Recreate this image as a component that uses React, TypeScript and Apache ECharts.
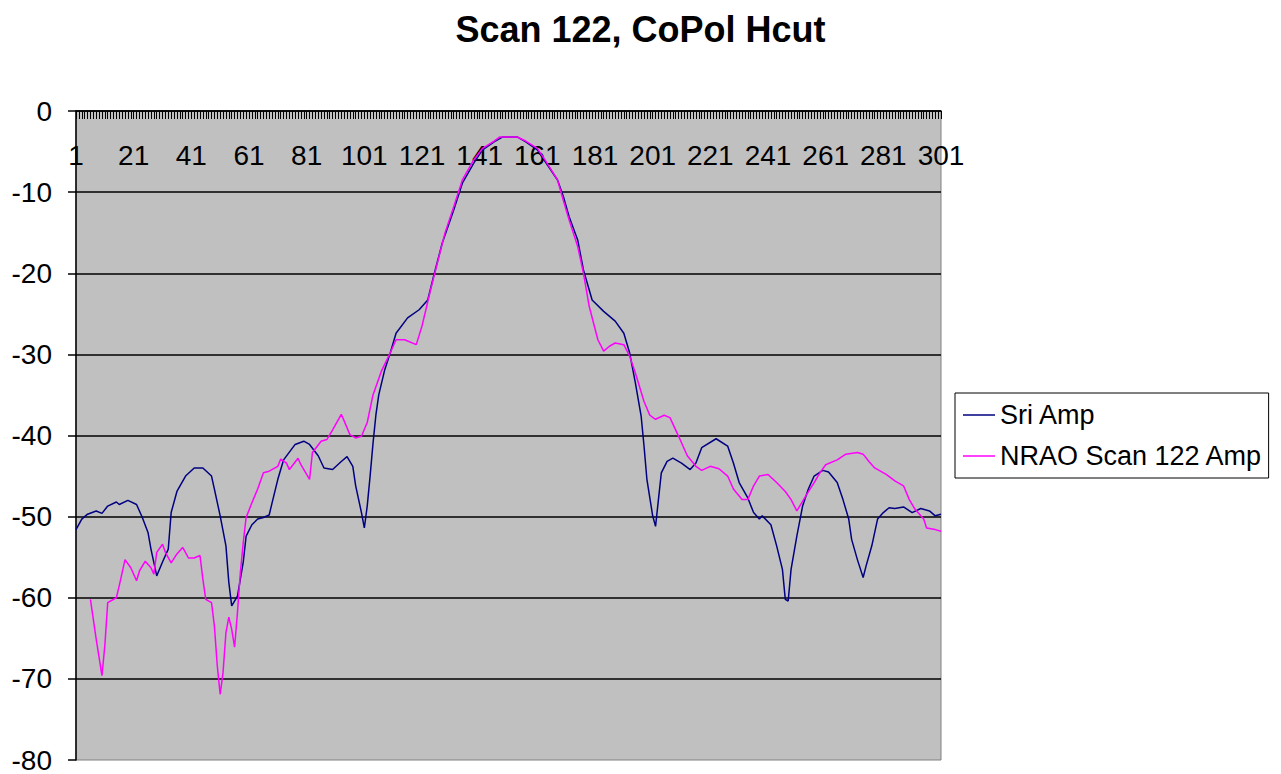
import React, { useEffect, useRef } from "react";
import * as echarts from "echarts";

const categories: string[] = Array.from({ length: 301 }, (_, i) => String(i + 1));

const sriCat = [1, 3, 5, 8, 10, 12, 15, 16, 19, 22, 24, 26, 27, 29, 31, 33, 34, 36, 39, 42, 45, 48, 49, 51, 53, 54, 55, 57, 59, 60, 62, 64, 66, 68, 69, 71, 73, 77, 80, 82, 85, 87, 90, 93, 95, 97, 98, 100, 101, 102, 103, 104, 105, 106, 108, 110, 112, 116, 120, 123, 125, 128, 132, 135, 139, 142, 146, 149, 154, 157, 161, 164, 168, 170, 172, 175, 177, 180, 184, 188, 191, 193, 195, 197, 198, 199, 201, 202, 203, 204, 206, 208, 211, 214, 216, 218, 223, 227, 229, 231, 234, 236, 238, 239, 242, 244, 246, 247, 248, 249, 251, 253, 255, 257, 260, 262, 265, 267, 269, 270, 272, 274, 275, 277, 279, 281, 283, 285, 288, 291, 294, 297, 299, 301];
const sriAmp = [-51.6, -50.3, -49.7, -49.3, -49.6, -48.7, -48.2, -48.5, -48.0, -48.5, -50.1, -52, -54, -57.3, -55.6, -54, -49.5, -46.9, -45, -44, -44, -45, -46.6, -49.9, -53.6, -58.1, -61, -59.8, -55.6, -52.4, -51, -50.3, -50.1, -49.8, -48.3, -45.4, -43, -41.1, -40.7, -41.1, -42.5, -44, -44.2, -43.2, -42.6, -43.8, -46.2, -49.5, -51.4, -48.7, -45, -41, -37.5, -35, -32, -29.8, -27.4, -25.5, -24.5, -23.3, -20.4, -16.3, -12.2, -8.9, -6.4, -4.8, -3.8, -3.2, -3.2, -3.8, -4.8, -6.4, -8.5, -10.5, -13, -15.9, -19.6, -23.3, -24.7, -25.9, -27.4, -29.8, -33.5, -37.6, -41.3, -45.4, -49.9, -51.2, -47.9, -44.6, -43.2, -42.8, -43.4, -44.2, -43.4, -41.5, -40.4, -41.3, -43.4, -45.8, -47.7, -49.5, -50.3, -49.9, -51, -53.6, -56.5, -60.2, -60.4, -56.5, -52.4, -48.7, -46.6, -45, -44.3, -44.5, -45.8, -47.9, -50.3, -52.8, -55.3, -57.5, -56.1, -53.6, -50.3, -49.5, -48.9, -49, -48.8, -49.5, -49, -49.3, -49.9, -49.7];

const nraoCat = [6, 8, 10, 11, 12, 15, 16, 18, 20, 22, 23, 25, 27, 28, 29, 31, 32, 34, 36, 38, 40, 42, 44, 45, 46, 48, 49, 50, 51, 52, 53, 54, 55, 56, 57, 58, 59, 60, 62, 64, 66, 68, 71, 72, 74, 75, 78, 79, 82, 83, 86, 88, 90, 93, 94, 96, 98, 100, 102, 104, 107, 110, 112, 115, 119, 121, 124, 126, 129, 132, 135, 139, 142, 146, 148, 154, 157, 161, 164, 168, 170, 172, 175, 177, 179, 182, 184, 186, 188, 191, 193, 195, 198, 200, 202, 205, 207, 210, 213, 216, 218, 221, 224, 227, 229, 232, 234, 236, 238, 241, 244, 247, 249, 251, 252, 254, 257, 259, 261, 265, 268, 272, 274, 276, 278, 282, 285, 288, 290, 292, 295, 296, 299, 301];
const nraoAmp = [-60.2, -65.1, -69.6, -65.9, -60.6, -60, -58.5, -55.3, -56.3, -57.9, -56.7, -55.5, -56.3, -57.1, -54.4, -53.4, -54.4, -55.7, -54.6, -53.8, -55.1, -55.1, -54.8, -57.7, -60.2, -60.6, -63.5, -68.4, -71.9, -69.2, -64.3, -62.4, -63.9, -66.1, -61.8, -56.9, -53.2, -50.1, -48.3, -46.6, -44.6, -44.4, -43.8, -42.9, -43.4, -44.2, -42.8, -43.6, -45.4, -42.1, -40.7, -40.5, -39.3, -37.4, -38.2, -39.9, -40.3, -40.1, -38.4, -35, -32, -29.8, -28.2, -28.2, -28.8, -26.5, -22, -19.2, -15, -11.8, -8.5, -6, -4.6, -3.7, -3.2, -3.2, -3.7, -4.6, -6.2, -8.5, -11, -13.4, -16.7, -20, -24.1, -28.2, -29.6, -29, -28.6, -28.8, -30.2, -32.3, -35.8, -37.5, -38, -37.5, -37.8, -40.1, -42.5, -43.8, -44.3, -43.8, -44.1, -45, -46.6, -47.9, -47.9, -46.2, -45, -44.8, -45.8, -46.9, -47.9, -49.3, -48.7, -47.5, -45.8, -44.6, -43.6, -43, -42.3, -42.1, -42.3, -43.2, -44, -44.8, -45.6, -46.2, -47.9, -49.1, -50.3, -51.4, -51.6, -51.8];

const yTicks = { min: -80, max: 0, interval: 10 };
const seriesNames = ["Sri Amp", "NRAO Scan 122 Amp"];
const titleText = "Scan 122, CoPol Hcut";

const FONT = "'Liberation Sans', Arial, Helvetica, sans-serif";

export default function App() {
  const ref = useRef<HTMLDivElement>(null);
  useEffect(() => {
    if (!ref.current) return;
    const chart = echarts.init(ref.current, undefined, { renderer: "svg" });
    chart.setOption({
      animation: false,
      backgroundColor: "#ffffff",
      textStyle: { fontFamily: FONT },
      title: {
        text: titleText,
        left: "center",
        top: 6,
        textStyle: { fontFamily: FONT, fontSize: 36, fontWeight: "bold", color: "#000" },
      },
      legend: {
        orient: "vertical",
        left: 955,
        top: 393,
        icon: "rect",
        itemWidth: 32,
        itemHeight: 1.5,
        itemGap: 9,
        padding: [6, 6, 6, 8],
        backgroundColor: "#ffffff",
        borderColor: "#000000",
        borderWidth: 1,
        borderRadius: 0,
        data: seriesNames,
        textStyle: { fontFamily: FONT, fontSize: 27, color: "#000", lineHeight: 32 },
      },
      grid: {
        left: 76,
        right: 340,
        top: 111,
        bottom: 13,
        show: true,
        backgroundColor: "#C0C0C0",
        borderColor: "#808080",
        borderWidth: 1,
      },
      xAxis: {
        type: "category",
        data: categories,
        position: "top",
        boundaryGap: false,
        axisLine: { show: true, onZero: false, lineStyle: { color: "#000", width: 1.5 } },
        axisTick: { show: true, inside: true, interval: 0, length: 8, lineStyle: { color: "#000", width: 1 } },
        axisLabel: {
          show: true,
          inside: true,
          interval: 19,
          margin: 30,
          fontFamily: FONT,
          fontSize: 28,
          color: "#000",
        },
        splitLine: { show: false },
      },
      yAxis: {
        type: "value",
        min: yTicks.min,
        max: yTicks.max,
        interval: yTicks.interval,
        axisLine: { show: true, lineStyle: { color: "#000", width: 1.5 } },
        axisTick: { show: true, inside: false, length: 8, lineStyle: { color: "#000", width: 1.5 } },
        axisLabel: { margin: 24, fontFamily: FONT, fontSize: 28, color: "#000" },
        splitLine: { show: true, showMinLine: false, lineStyle: { color: "#000", width: 1.6 } },
      },
      series: [
        {
          name: seriesNames[0],
          type: "line",
          data: sriCat.map((c, i) => [String(c), sriAmp[i]]),
          showSymbol: false,
          symbol: "none",
          color: "#000080",
          lineStyle: { color: "#000080", width: 1.5 },
        },
        {
          name: seriesNames[1],
          type: "line",
          data: nraoCat.map((c, i) => [String(c), nraoAmp[i]]),
          showSymbol: false,
          symbol: "none",
          color: "#FF00FF",
          lineStyle: { color: "#FF00FF", width: 1.5 },
        },
      ],
    });
    return () => chart.dispose();
  }, []);
  return (
    <div
      ref={ref}
      style={{ position: "absolute", left: 0, top: 0, width: 1281, height: 774 }}
    />
  );
}
